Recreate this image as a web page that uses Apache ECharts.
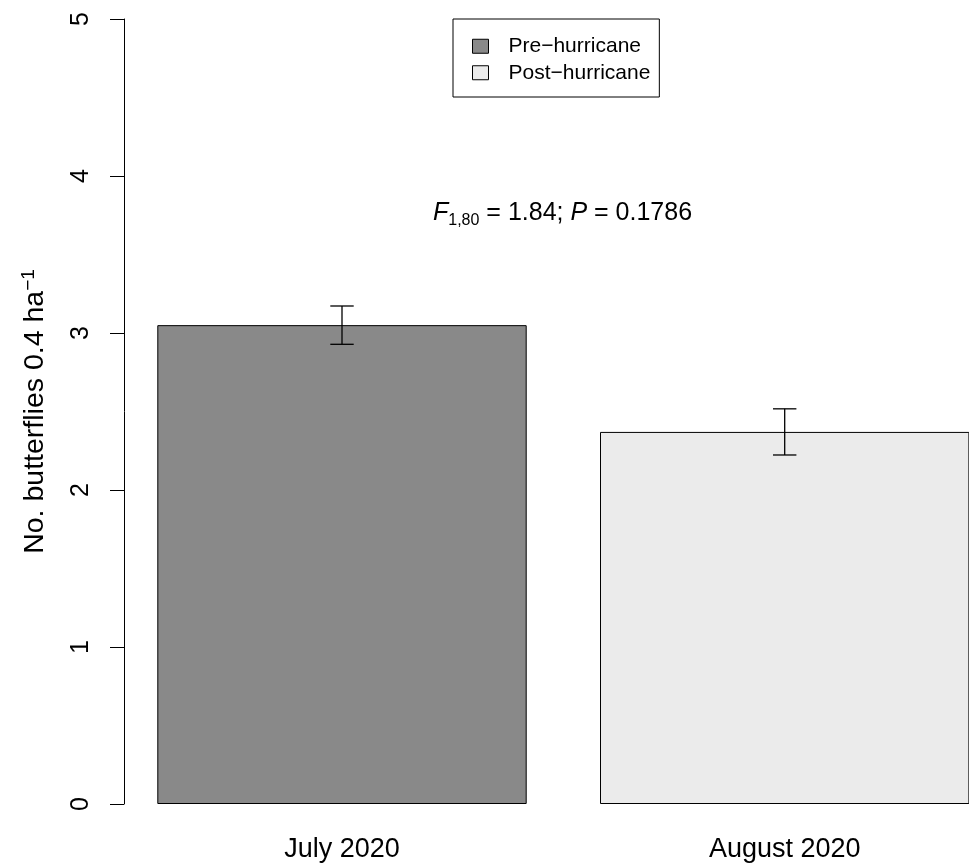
<!DOCTYPE html>
<html>
<head>
<meta charset="utf-8">
<title>Butterflies per 0.4 ha</title>
<script src="https://cdn.jsdelivr.net/npm/echarts@6/dist/echarts.min.js"></script>
<style>
  html, body { margin: 0; padding: 0; background: #fff; }
  #chart { width: 969px; height: 864px; }
</style>
</head>
<body>
<div id="chart"></div>
<script>
// Survey months and the hurricane period each belongs to
const months = ['July 2020', 'August 2020'];
const periods = ['Pre\u2212hurricane', 'Post\u2212hurricane'];
// Mean butterflies per 0.4 ha and standard errors
const means = [3.05, 2.37];
const stdErr = [0.122, 0.147];
// Y-axis ticks
const yTicks = [0, 1, 2, 3, 4, 5];
const fills = ['#898989', '#ebebeb'];

const FONT = 'Liberation Sans, Arial, Helvetica, sans-serif';

const barSeries = periods.map((name, i) => ({
  name: name,
  type: 'bar',
  data: months.map((m, j) => (j === i ? means[j] : '-')),
  barWidth: 369.4,
  barGap: '-100%',
  itemStyle: { color: fills[i], borderColor: '#000', borderWidth: 1 },
  emphasis: { disabled: true },
  z: 2
}));

const errData = months.map((m, j) => [j, means[j] - stdErr[j], means[j] + stdErr[j]]);

const chart = echarts.init(document.getElementById('chart'), null, { renderer: 'canvas' });

chart.setOption({
  animation: false,
  textStyle: { fontFamily: FONT, color: '#000' },
  grid: { left: 120.65, top: 19, width: 885.4, height: 785, outerBoundsMode: 'none', containLabel: false },
  legend: {
    data: periods,
    orient: 'vertical',
    left: 453,
    top: 19,
    padding: [14, 9, 11, 19],
    itemGap: 0,
    itemWidth: 16,
    itemHeight: 14,
    borderColor: '#000',
    borderWidth: 1,
    icon: 'rect',
    selectedMode: false,
    itemStyle: { borderColor: '#000', borderWidth: 1 },
    textStyle: { fontFamily: FONT, fontSize: 21, color: '#000', lineHeight: 26.5, padding: [0, 0, 0, 15] }
  },
  xAxis: {
    type: 'category',
    data: months,
    axisLine: { show: false },
    axisTick: { show: false },
    axisLabel: { fontFamily: FONT, fontSize: 27, color: '#000', margin: 32 },
    splitLine: { show: false }
  },
  yAxis: {
    type: 'value',
    min: yTicks[0],
    max: yTicks[yTicks.length - 1],
    interval: 1,
    offset: -3.35,
    axisLine: { show: true, lineStyle: { color: '#000', width: 1 } },
    axisTick: { show: true, length: 14, lineStyle: { color: '#000', width: 1 } },
    axisLabel: { fontFamily: FONT, fontSize: 25, color: '#000', rotate: 90, margin: 30 },
    splitLine: { show: false },
    name: '{m|No. butterflies 0.4 ha}{s|\u22121}',
    nameLocation: 'middle',
    nameGap: 73,
    nameRotate: 90,
    nameTextStyle: {
      fontFamily: FONT,
      color: '#000',
      rich: {
        m: { fontFamily: FONT, fontSize: 28.5, lineHeight: 32, color: '#000' },
        s: { fontFamily: FONT, fontSize: 19, lineHeight: 15, verticalAlign: 'top', color: '#000' }
      }
    }
  },
  graphic: [{
    type: 'text',
    left: 433,
    top: 201,
    style: {
      text: '{i|F}{sub|1,80}{n| = 1.84; }{i|P}{n| = 0.1786}',
      rich: {
        i: { fontFamily: FONT, fontSize: 25, fontStyle: 'italic', lineHeight: 30, fill: '#000' },
        n: { fontFamily: FONT, fontSize: 25, lineHeight: 30, fill: '#000' },
        sub: { fontFamily: FONT, fontSize: 16, lineHeight: 14, verticalAlign: 'bottom', fill: '#000' }
      }
    }
  }],
  series: barSeries.concat([{
    type: 'custom',
    name: 'SE',
    data: errData,
    encode: { x: 0, y: [1, 2] },
    z: 5,
    silent: true,
    renderItem: function (params, api) {
      const idx = api.value(0);
      const lo = api.coord([idx, api.value(1)]);
      const hi = api.coord([idx, api.value(2)]);
      const x = lo[0];
      const half = 11.7;
      const ls = { stroke: '#000', lineWidth: 1.3 };
      return {
        type: 'group',
        children: [
          { type: 'line', shape: { x1: x, y1: lo[1], x2: x, y2: hi[1] }, style: ls },
          { type: 'line', shape: { x1: x - half, y1: lo[1], x2: x + half, y2: lo[1] }, style: ls },
          { type: 'line', shape: { x1: x - half, y1: hi[1], x2: x + half, y2: hi[1] }, style: ls }
        ]
      };
    }
  }])
});
</script>
</body>
</html>
